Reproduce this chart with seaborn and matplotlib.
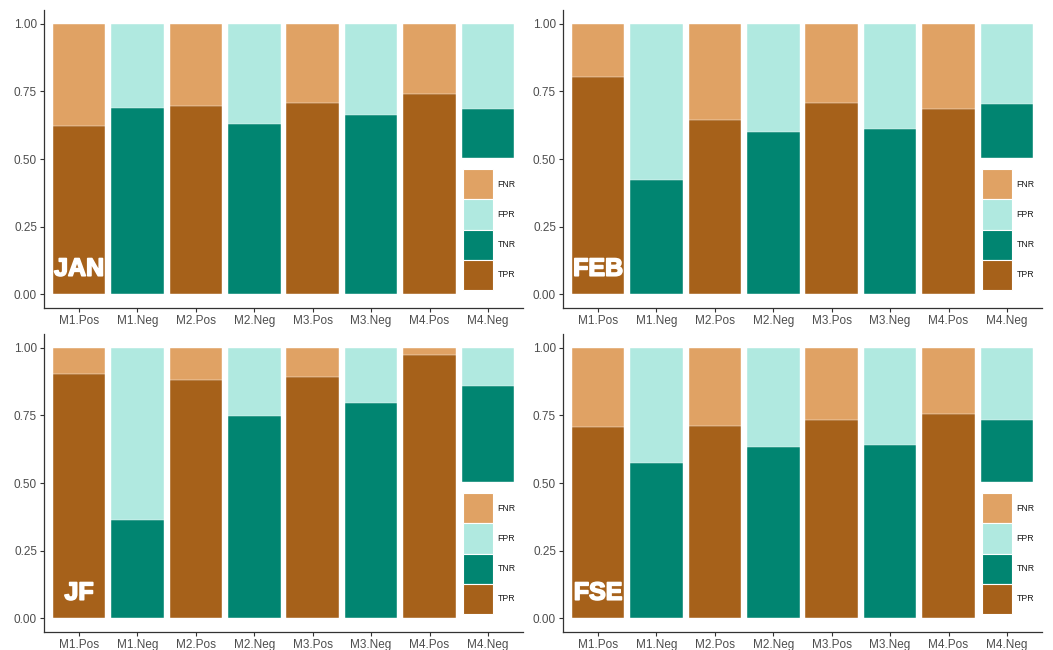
import matplotlib
matplotlib.use("Agg")
import matplotlib.pyplot as plt
import matplotlib.patheffects as pe
from matplotlib.patches import Patch
import numpy as np
import pandas as pd
import seaborn as sns

# Categories (model x class) and the four panels
categories = ["M1.Pos", "M1.Neg", "M2.Pos", "M2.Neg",
              "M3.Pos", "M3.Neg", "M4.Pos", "M4.Neg"]
panels = ["JAN", "FEB", "JF", "FSE"]

# Lower segment of each bar: TPR for the .Pos bars, TNR for the .Neg bars
jan_lower = [0.621, 0.688, 0.695, 0.629, 0.706, 0.662, 0.739, 0.684]
feb_lower = [0.801, 0.423, 0.643, 0.599, 0.706, 0.610, 0.684, 0.702]
jf_lower = [0.901, 0.364, 0.882, 0.746, 0.893, 0.794, 0.974, 0.857]
fse_lower = [0.706, 0.574, 0.710, 0.632, 0.732, 0.640, 0.754, 0.732]
lower_values = [jan_lower, feb_lower, jf_lower, fse_lower]

# Rate names for each segment
lower_names = ["TPR", "TNR"] * 4
upper_names = ["FNR", "FPR"] * 4

colors = {
    "FNR": "#E0A264",
    "FPR": "#B0E9E0",
    "TNR": "#018571",
    "TPR": "#A6611A",
}
legend_order = ["FNR", "FPR", "TNR", "TPR"]

sns.set_style("white")
plt.rcParams["font.family"] = ["Liberation Sans", "DejaVu Sans"]

fig = plt.figure(figsize=(10.53, 6.5), dpi=100)
W, H = 1053, 650
boxes = [(44, 10, 523, 308), (563, 10, 1042, 308),
         (44, 334, 523, 632), (563, 334, 1042, 632)]

tick_color = "#4D4D4D"

for name, lower, (x0, y0, x1, y1) in zip(panels, lower_values, boxes):
    ax = fig.add_axes([x0 / W, 1 - y1 / H, (x1 - x0) / W, (y1 - y0) / H])
    lower = np.array(lower)
    upper = 1.0 - lower
    df = pd.DataFrame({
        "label": categories,
        "lower": lower,
        "total": lower + upper,
        "lower_name": lower_names,
        "upper_name": upper_names,
    })
    # upper segment (full stack height), then lower segment on top of it
    sns.barplot(data=df, x="label", y="total", hue="upper_name",
                order=categories, palette=colors, dodge=False, width=0.9,
                saturation=1, errorbar=None, legend=False,
                edgecolor="white", linewidth=0.3, ax=ax)
    sns.barplot(data=df, x="label", y="lower", hue="lower_name",
                order=categories, palette=colors, dodge=False, width=0.9,
                saturation=1, errorbar=None, legend=False,
                edgecolor="white", linewidth=0.3, ax=ax)

    ax.set_xlim(-0.6, 7.6)
    ax.set_ylim(-0.05, 1.05)
    ax.set_yticks([0, 0.25, 0.5, 0.75, 1.0])
    ax.set_yticklabels(["0.00", "0.25", "0.50", "0.75", "1.00"])
    ax.set_xlabel("")
    ax.set_ylabel("")
    sns.despine(ax=ax)
    for side in ("left", "bottom"):
        ax.spines[side].set_color("#333333")
        ax.spines[side].set_linewidth(0.9)
    ax.tick_params(axis="both", which="both", length=3, width=0.8,
                   color="#333333", labelcolor=tick_color, labelsize=8.5,
                   pad=2, bottom=True, left=True)

    ax.text(0, 0.095, name, ha="center", va="center", color="white",
            fontsize=18, fontweight="bold",
            path_effects=[pe.withStroke(linewidth=1.2, foreground="white")])

    handles = [Patch(facecolor=colors[k], edgecolor="white", linewidth=0.8)
               for k in legend_order]
    leg = ax.legend(handles, legend_order, loc="upper left",
                    bbox_to_anchor=(0.8653, 0.503), borderaxespad=0,
                    frameon=True, fancybox=False, framealpha=1,
                    edgecolor="white", facecolor="white",
                    fontsize=6.3, title=" ", title_fontsize=5.5,
                    handlelength=3.45, handleheight=4.9,
                    labelspacing=0, handletextpad=0.5, borderpad=0.5)
    for t in leg.get_texts():
        t.set_color("#1A1A1A")

fig.savefig("out.png", dpi=100)
